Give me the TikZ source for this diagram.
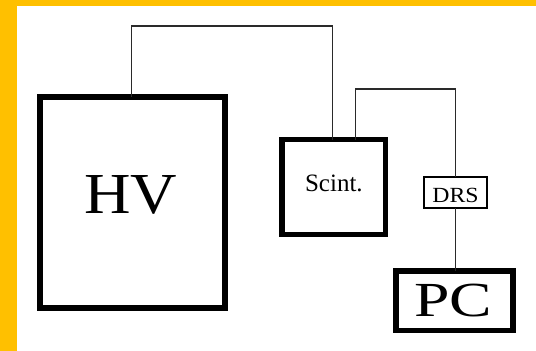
\documentclass[tikz,border=0pt]{standalone}
\usepackage{fontspec}
\usepackage{graphicx}
\setmainfont{Liberation Serif}
\definecolor{frameorange}{HTML}{FFC000}
\definecolor{wiregray}{HTML}{2A2A2A}
\tikzset{
  box/.style={draw=black, fill=white, inner sep=0pt, outer sep=0pt, text=black, anchor=center},
  wire/.style={draw=wiregray, line width=1.7pt},
}
\begin{document}
\begin{tikzpicture}[x=1pt, y=-1pt]
\useasboundingbox (0,0) rectangle (536,351);
\fill[white] (0,0) rectangle (536,351);
\fill[frameorange] (0,0) rectangle (17,351);
\fill[frameorange] (0,0) rectangle (536,5.7);

\node[box, line width=6pt, minimum width=185pt, minimum height=211pt] (hv) at (132.5,202.7)
  {\fontsize{58}{58}\selectfont\raisebox{8pt}[\height][\depth]{\scalebox{1.11}[1]{HV}}\hspace*{4pt}};
\node[box, line width=5.3pt, minimum width=103.7pt, minimum height=95pt] (sc) at (333.9,187.2)
  {\fontsize{25}{25}\selectfont\raisebox{4pt}[\height][\depth]{Scint.}};
\node[box, line width=1.3pt, minimum width=63pt, minimum height=31pt] (drs) at (455.5,192.5)
  {\fontsize{21.6}{21.6}\selectfont\raisebox{-3pt}[\height][\depth]{\scalebox{1.1}[1]{DRS}}};
\node[box, line width=5.5pt, minimum width=117pt, minimum height=59.6pt] (pc) at (454.5,300.8)
  {\fontsize{49}{49}\selectfont\scalebox{1.3}[1]{PC}\hspace*{3pt}};

\draw[wire] ([xshift=-1pt]hv.north) -- ++(0,-71.5) -| ([xshift=-1.3pt]sc.north);
\draw[wire] ([xshift=21.7pt]sc.north) -- ++(0,-50.4) -| (drs.north);
\draw[wire] (drs.south) -- (drs.south |- pc.north);
\end{tikzpicture}
\end{document}
